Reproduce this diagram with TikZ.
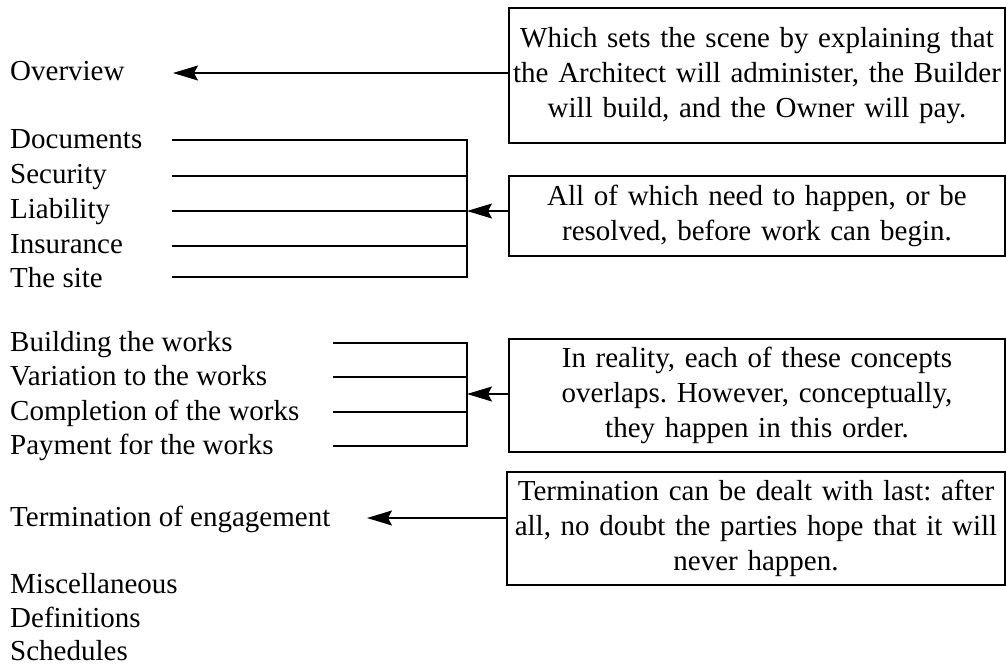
\documentclass[tikz,border=0pt]{standalone}
\usepackage{fontspec}
\setmainfont{Liberation Serif}
\usetikzlibrary{arrows.meta}
\frenchspacing
\begin{document}
\begin{tikzpicture}[x=1pt,y=-1pt,
  lab/.style={anchor=base west,inner sep=0pt,font=\fontsize{29}{35}\selectfont},
  note/.style={draw,line width=1.8pt,inner sep=0pt,align=center,text width=490pt,
     font=\fontsize{29}{35}\selectfont},
  brk/.style={line width=1.8pt},
  arr/.style={line width=1.3pt,-{Stealth[length=25pt,width=15pt,inset=4pt]}}]
\useasboundingbox (0,0) rectangle (1006,667);
% labels
\node[lab] (ov) at (10,80) {Overview};
\node[lab] (doc) at (10,148) {Documents};
\node[lab] (sec) at (10,183) {Security};
\node[lab] (lia) at (10,218) {Liability};
\node[lab] (ins) at (10,253) {Insurance};
\node[lab] (site) at (10,287) {The site};
\node[lab] (bld) at (10,351) {Building the works};
\node[lab] (var) at (10,385) {Variation to the works};
\node[lab] (cmp) at (10,420) {Completion of the works};
\node[lab] (pay) at (10,454) {Payment for the works};
\node[lab] (ter) at (10,526) {Termination of engagement};
\node[lab] (misc) at (10,593) {Miscellaneous};
\node[lab] (def) at (10,627) {Definitions};
\node[lab] (sch) at (10,660) {Schedules};
% boxes
\node[note,minimum width=496pt,minimum height=135pt] (b1) at (757,75.5)
  {Which sets the scene by explaining that\\the Architect will administer, the Builder\\will build, and the Owner will pay.};
\node[note,minimum width=496pt,minimum height=80pt] (b2) at (757,216)
  {All of which need to happen, or be\\resolved, before work can begin.};
\node[note,minimum width=496pt,minimum height=113pt] (b3) at (757,395.5)
  {In reality, each of these concepts\\overlaps. However, conceptually,\\they happen in this order.};
\node[note,minimum width=498pt,minimum height=113pt] (b4) at (756,528.5)
  {Termination can be dealt with last: after\\all, no doubt the parties hope that it will\\never happen.};
% coordinates
\coordinate (ovtip) at (173,73);
\coordinate (tertip) at (367,518);
\coordinate (a1) at (172,140); \coordinate (a2) at (172,176); \coordinate (a3) at (172,211);
\coordinate (a4) at (172,246); \coordinate (a5) at (172,277);
\coordinate (k1) at (467,140); \coordinate (k2) at (467,176); \coordinate (k3) at (467,211);
\coordinate (k4) at (467,246); \coordinate (k5) at (467,277);
\coordinate (c1) at (333,343); \coordinate (c2) at (333,377); \coordinate (c3) at (333,412);
\coordinate (c4) at (333,446);
\coordinate (m1) at (467,343); \coordinate (m2) at (467,377); \coordinate (m3) at (467,412);
\coordinate (m4) at (467,446); \coordinate (m5) at (467,394);
% connectors
\draw[arr] (b1.west |- ovtip) -- (ovtip);
\draw[brk] (a1) -- (k1) -- (k5) -- (a5);
\draw[brk] (a2) -- (k2);
\draw[brk] (a3) -- (k3);
\draw[brk] (a4) -- (k4);
\draw[arr] (b2.west |- k3) -- (k3);
\draw[brk] (c1) -- (m1) -- (m4) -- (c4);
\draw[brk] (c2) -- (m2);
\draw[brk] (c3) -- (m3);
\draw[arr] (b3.west |- m5) -- (m5);
\draw[arr] (b4.west |- tertip) -- (tertip);
\end{tikzpicture}
\end{document}
